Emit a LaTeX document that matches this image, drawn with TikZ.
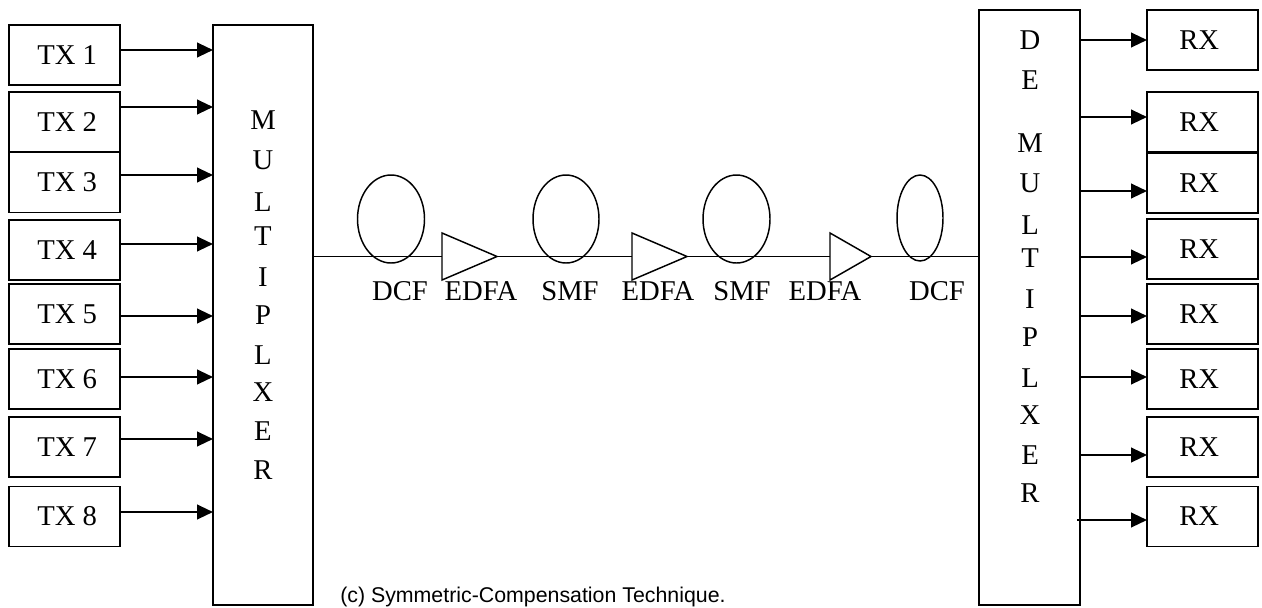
\documentclass[tikz,border=0pt]{standalone}
\usepackage{fontspec}
\setmainfont{Liberation Serif}
\newfontfamily\capfont{Liberation Sans}
\usetikzlibrary{arrows.meta,shapes.geometric}
\begin{document}
\begin{tikzpicture}[x=0.75pt,y=-0.75pt,
  txt/.style={font=\fontsize{21.5}{25}\selectfont},
  box/.style={draw, line width=1.2pt, inner sep=0pt, outer sep=0pt,
    minimum width=83.25pt, minimum height=45pt, txt},
  bigbox/.style={draw, line width=1.2pt, inner sep=0pt, outer sep=0pt},
  letter/.style={anchor=base, inner sep=0pt, txt},
  lbl/.style={anchor=base, inner sep=0pt, txt},
  arr/.style={line width=1.6pt, -{Triangle[length=12pt,width=11pt]}},
  wire/.style={line width=1.2pt},
  fiber/.style={draw, ellipse, line width=1.1pt, inner sep=0pt, outer sep=0pt},
  amp/.style={draw, fill=white, isosceles triangle, isosceles triangle stretches,
    line width=1.1pt, inner sep=0pt, outer sep=0pt, shape border rotate=0}
]
\path[use as bounding box] (0,0) rectangle (1262,607);

% multiplexer and demultiplexer
\node[bigbox, minimum width=75pt, minimum height=435pt] (mux) at (263,315) {};
\node[bigbox, minimum width=75.75pt, minimum height=446.25pt] (demux) at (1029.5,307.5) {};

\foreach \L/\y [count=\k] in {M/120,U/160,L/202,T/236,I/277,P/315,L/355,X/392,E/431,R/470}
  \node[letter] (muxl\k) at (263,\y+9.3) {\L};
\foreach \L/\y [count=\k] in {D/40,E/80,M/143,U/183,L/225,T/258,I/299,P/337,L/378,X/415,E/455,R/493}
  \node[letter] (demuxl\k) at (1030,\y+9.3) {\L};

% transmitters
\foreach \i/\cy/\ay in {1/55/50,2/122/107,3/182.5/175,4/250/244,5/314/316,6/379/377,7/447/439,8/516.5/512}{
  \node[box] (tx\i) at (64.5,\cy) {\hspace{4pt}TX \i};
  \draw[arr] (tx\i.east |- 0,\ay) -- (mux.west |- 0,\ay);
}

% receivers
\foreach \i/\cy/\ay in {1/40/40,2/122/117,3/183/191,4/249/257,5/314/316,6/379/377,7/447/455}{
  \node[box] (rx\i) at (1202.5,\cy) {\hspace{-5pt}RX};
  \draw[arr] (demux.east |- 0,\ay) -- (rx\i.west |- 0,\ay);
}
\node[box] (rx8) at (1202.5,516.5) {\hspace{-5pt}RX};
\draw[arr] ([xshift=-2.25pt]demux.east |- 0,520) -- (rx8.west |- 0,520);

% fibre link
\draw[wire] (mux.east |- 0,256.5) -- (demux.west |- 0,256.5);

\node[fiber, minimum width=50.25pt, minimum height=66pt] (dcf1) at (391,219) {};
\node[fiber, minimum width=49.5pt, minimum height=66pt] (smf1) at (566,219) {};
\node[fiber, minimum width=50.25pt, minimum height=66pt] (smf2) at (736.5,219) {};
\node[fiber, minimum width=34.5pt, minimum height=64.5pt] (dcf2) at (920,218) {};

\node[amp, minimum height=41.25pt, minimum width=35.25pt, anchor=apex] (edfa1) at (497,256.5) {};
\node[amp, minimum height=41.25pt, minimum width=35.25pt, anchor=apex] (edfa2) at (687,256.5) {};
\node[amp, minimum height=30.75pt, minimum width=35.25pt, anchor=apex] (edfa3) at (871,256.5) {};

% labels
\node[lbl] (lab1) at (400,300) {DCF};
\node[lbl] (lab2) at (481,300) {EDFA};
\node[lbl] (lab3) at (570,300) {SMF};
\node[lbl] (lab4) at (658,300) {EDFA};
\node[lbl] (lab5) at (742,300) {SMF};
\node[lbl] (lab6) at (825,300) {EDFA};
\node[lbl] (lab7) at (937,300) {DCF};

% caption
\node[anchor=base west, inner sep=0pt, font=\capfont\fontsize{16}{19}\selectfont] (cap) at (340,602)
  {(c) Symmetric-Compensation Technique.};
\end{tikzpicture}
\end{document}
